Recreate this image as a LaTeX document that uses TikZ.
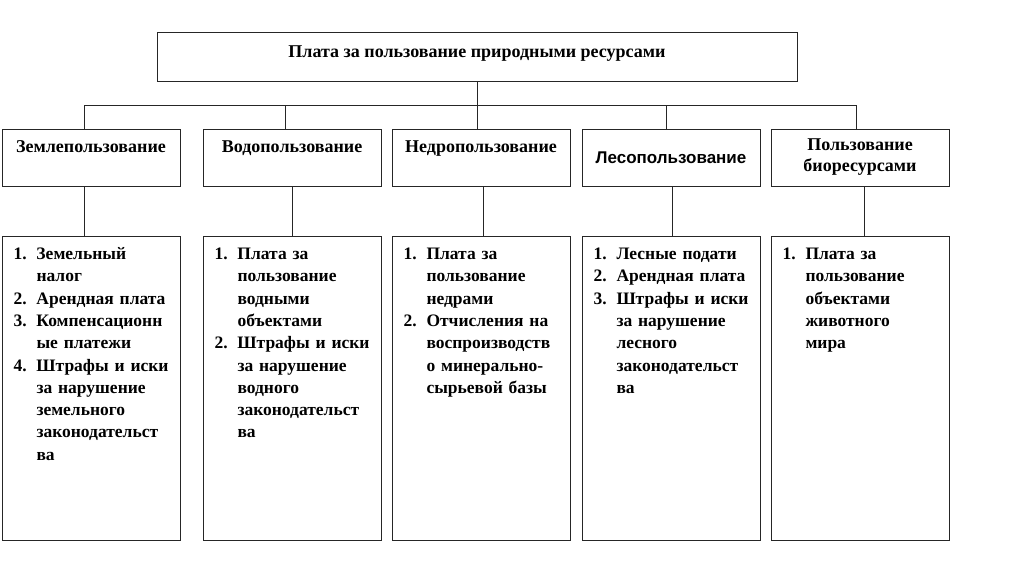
\documentclass[tikz,border=0pt]{standalone}
\usepackage{fontspec}
\setmainfont{Liberation Serif}
\newfontfamily\arialfont{Liberation Sans}
\usetikzlibrary{positioning}

\begin{document}
\begin{tikzpicture}[x=1pt, y=-1pt,
        every node/.style={font=\fontsize{18}{21}\selectfont\bfseries},
        box/.style={draw=black!85, line width=1pt, inner sep=0pt},
        head/.style={box, align=center, minimum width=178pt, minimum height=57pt},
        lst/.style={box, anchor=north, align=left, text width=155pt,
                    font=\fontsize{17.5}{22.3}\selectfont\bfseries,
                    inner xsep=11.5pt, inner ysep=0pt, text height=23pt, text depth=281pt},
        conn/.style={draw=black!85, line width=1pt}
    ]
        \useasboundingbox (0,0) rectangle (1024,574);
        % top box
        \node[box, minimum width=640pt, minimum height=49pt] (plata) at (477,56.5)
              {\raisebox{9pt}{Плата за пользование природными ресурсами}};
        % kinds of use
        \node[head] (zem)  at (91,157.5)  {Землепользование\\\mbox{}};
        \node[head] (vod)  at (292,157.5) {Водопользование\\\mbox{}};
        \node[head] (nedr) at (481,157.5) {Недропользование\\\mbox{}};
        \node[head] (les)  at (671,157.5) {\raisebox{-5pt}{\fontsize{17}{21}\selectfont\arialfont Лесопользование}};
        \node[head] (bio)  at (860,157.5) {Пользование\\биоресурсами};
        % payments
        \node[lst] (lzem) at (91,236) {\begin{tabular}[t]{@{}p{23pt}@{}l@{}}
            1. & Земельный\\ & налог\\
            2. & Арендная плата\\
            3. & Компенсационн\\ & ые платежи\\
            4. & Штрафы и иски\\ & за нарушение\\ & земельного\\ & законодательст\\ & ва
        \end{tabular}};
        \node[lst] (lvod) at (292,236) {\begin{tabular}[t]{@{}p{23pt}@{}l@{}}
            1. & Плата за\\ & пользование\\ & водными\\ & объектами\\
            2. & Штрафы и иски\\ & за нарушение\\ & водного\\ & законодательст\\ & ва
        \end{tabular}};
        \node[lst] (lnedr) at (481,236) {\begin{tabular}[t]{@{}p{23pt}@{}l@{}}
            1. & Плата за\\ & пользование\\ & недрами\\
            2. & Отчисления на\\ & воспроизводств\\ & о минерально-\\ & сырьевой базы
        \end{tabular}};
        \node[lst] (lles) at (671,236) {\begin{tabular}[t]{@{}p{23pt}@{}l@{}}
            1. & Лесные подати\\
            2. & Арендная плата\\
            3. & Штрафы и иски\\ & за нарушение\\ & лесного\\ & законодательст\\ & ва
        \end{tabular}};
        \node[lst] (lbio) at (860,236) {\begin{tabular}[t]{@{}p{23pt}@{}l@{}}
            1. & Плата за\\ & пользование\\ & объектами\\ & животного\\ & мира
        \end{tabular}};
        % connectors
        \coordinate (bus) at (0,105);
        \draw[conn] (plata.south) -- (plata.south |- bus);
        \draw[conn] ([xshift=-7pt]zem.north |- bus) -- ([xshift=-4pt]bio.north |- bus);
        \draw[conn] ([xshift=-7pt]zem.north) -- ([xshift=-7pt]zem.north |- bus);
        \draw[conn] ([xshift=-7pt]vod.north) -- ([xshift=-7pt]vod.north |- bus);
        \draw[conn] ([xshift=-4pt]nedr.north) -- ([xshift=-4pt]nedr.north |- bus);
        \draw[conn] ([xshift=-5pt]les.north) -- ([xshift=-5pt]les.north |- bus);
        \draw[conn] ([xshift=-4pt]bio.north) -- ([xshift=-4pt]bio.north |- bus);
        \draw[conn] ([xshift=-7pt]zem.south) -- ([xshift=-7pt]lzem.north);
        \draw[conn] (vod.south) -- (lvod.north);
        \draw[conn] ([xshift=2pt]nedr.south) -- ([xshift=2pt]lnedr.north);
        \draw[conn] ([xshift=1pt]les.south) -- ([xshift=1pt]lles.north);
        \draw[conn] ([xshift=4pt]bio.south) -- ([xshift=4pt]lbio.north);
    \end{tikzpicture}
\end{document}
